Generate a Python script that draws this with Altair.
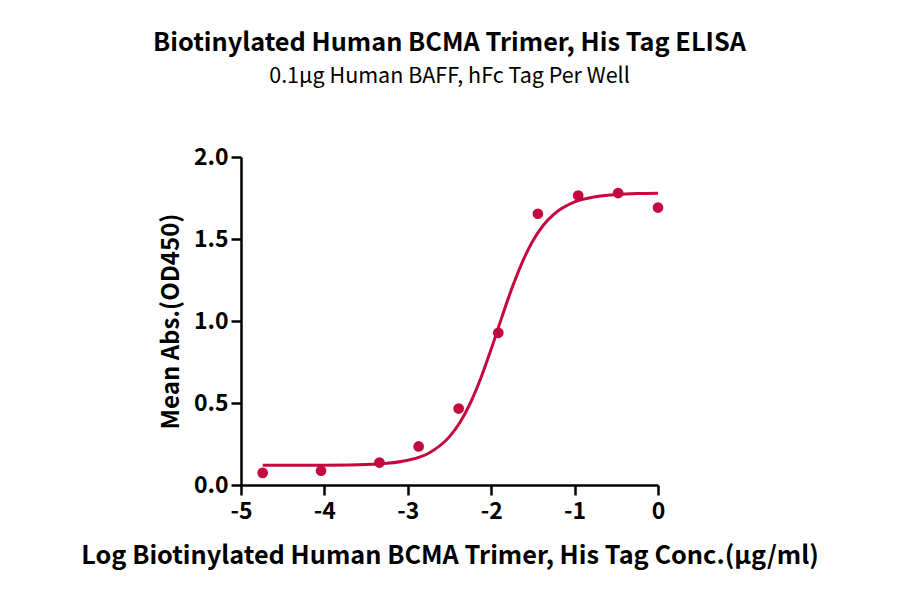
import altair as alt
import pandas as pd

# measured points (log concentration, mean OD450)
pt_x = [-4.74, -4.04, -3.34, -2.87, -2.39, -1.915, -1.44, -0.957, -0.478, 0.0]
pt_y = [0.074, 0.087, 0.137, 0.235, 0.466, 0.928, 1.654, 1.765, 1.780, 1.692]

# fitted curve samples
cv_x = [-4.74, -4.5, -4.0, -3.5, -3.25, -3.0, -2.75, -2.5, -2.375, -2.25, -2.125,
        -2.0, -1.875, -1.75, -1.625, -1.5, -1.375, -1.25, -1.0, -0.75, -0.5, -0.25, 0.0]
cv_y = [0.120, 0.120, 0.121, 0.125, 0.132, 0.151, 0.194, 0.295, 0.381, 0.500, 0.651,
        0.829, 1.019, 1.202, 1.361, 1.489, 1.584, 1.650, 1.726, 1.758, 1.771, 1.777, 1.779]

x_ticks = [-5, -4, -3, -2, -1, 0]
y_ticks = [0.0, 0.5, 1.0, 1.5, 2.0]

COLOR = "#C5083F"
FONT = "Noto Sans CJK SC"

pts = pd.DataFrame({"x": pt_x, "y": pt_y})
cur = pd.DataFrame({"x": cv_x, "y": cv_y})

xscale = alt.Scale(domain=[-5, 0], nice=False, zero=False)
yscale = alt.Scale(domain=[0, 2], nice=False)

xaxis = alt.Axis(values=x_ticks, labelExpr="'' + datum.value", labelFlush=False,
                 title="Log Biotinylated Human BCMA Trimer, His Tag Conc.(µg/ml)",
                 grid=False, domainColor="black", domainWidth=2.5, tickColor="black", tickWidth=2.5,
                 tickSize=10, labelFontSize=23, labelFontWeight="bold", labelFont=FONT, labelColor="black",
                 labelPadding=5, titleFontSize=25.3, titleFontWeight="bold", titleFont=FONT, titleColor="black",
                 titlePadding=20)
yaxis = alt.Axis(values=y_ticks, format=".1f", title="Mean Abs.(OD450)", labelFlush=False,
                 grid=False, domainColor="black", domainWidth=2.5, tickColor="black", tickWidth=2.5,
                 tickSize=10, labelFontSize=23, labelFontWeight="bold", labelFont=FONT, labelColor="black",
                 labelPadding=3, titleFontSize=24, titleFontWeight="bold", titleFont=FONT, titleColor="black",
                 titlePadding=10)

line = alt.Chart(cur).mark_line(color=COLOR, strokeWidth=3, interpolate="monotone").encode(
    x=alt.X("x:Q", scale=xscale, axis=xaxis),
    y=alt.Y("y:Q", scale=yscale, axis=yaxis),
)
dots = alt.Chart(pts).mark_circle(color=COLOR, size=115, opacity=1).encode(
    x=alt.X("x:Q", scale=xscale),
    y=alt.Y("y:Q", scale=yscale),
)

chart = alt.layer(line, dots).properties(
    width=417, height=328,
    autosize=alt.AutoSizeParams(type="none"),
    padding={"left": 233, "top": 149, "right": 234, "bottom": 101},
    title=alt.TitleParams(
        text="Biotinylated Human BCMA Trimer, His Tag ELISA",
        subtitle="0.1µg Human BAFF, hFc Tag Per Well",
        font=FONT, fontSize=25.3, fontWeight="bold", color="black",
        subtitleFont=FONT, subtitleFontSize=21.5, subtitleColor="black", subtitlePadding=9,
        anchor="middle", offset=59,
    ),
).configure(background="white", view=alt.ViewConfig(stroke=None, strokeWidth=0))

chart.save("out.html", embed_options={"renderer": "svg", "actions": False})
